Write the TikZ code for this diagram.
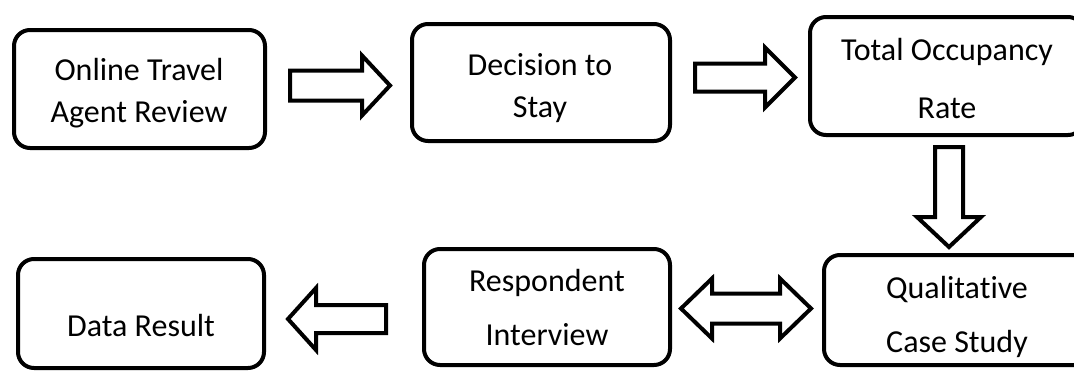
\documentclass[tikz,border=0pt]{standalone}
\usepackage{fontspec}
\setmainfont[Ligatures=NoCommon]{Carlito}
\begin{document}
\begin{tikzpicture}[x=1pt, y=-1pt,
        box/.style={draw, line width=4pt, rounded corners=16pt, inner sep=0pt},
        lbl/.style={font=\fontsize{32}{42}\selectfont, align=center, anchor=base},
        blockarrow/.style={draw, line width=4pt, line join=miter}]
        % Page: 1074 x 372, white
        \fill[white] (0,0) rectangle (1074,372);
        \useasboundingbox (0,0) rectangle (1074,372);

        % Boxes, top row
        \node[box, minimum width=251pt, minimum height=118pt] (review) at (139.5,89) {};
        \node[box, minimum width=258pt, minimum height=117pt] (decision) at (541,82.5) {};
        \node[box, minimum width=274pt, minimum height=118pt] (occupancy) at (947,76) {};

        % Boxes, bottom row
        \node[box, minimum width=266pt, minimum height=110pt] (casestudy) at (957,310) {};
        \node[box, minimum width=246pt, minimum height=116pt] (interview) at (547,307) {};
        \node[box, minimum width=246pt, minimum height=109pt] (result) at (141,313.5) {};

        % Labels (base = last line)
        \node[lbl] (review-t) at (139,122) {Online Travel\\Agent Review};
        \node[lbl] (decision-t) at (540,117) {Decision to\\Stay};
        \node[lbl] (occupancy-t) at (947,118) {Total Occupancy\\[16pt]Rate};
        \node[lbl] (casestudy-t) at (957,352) {Qualitative\\[12pt]Case Study};
        \node[lbl] (interview-t) at (547,345) {Respondent\\[12pt]Interview};
        \node[lbl] (result-t) at (141,336) {Data Result};

        % Arrow ends
        \coordinate (a1) at (290,85.5);
        \coordinate (a2) at (695,77.5);
        \coordinate (a3) at (949,147);
        \coordinate (a4) at (386,319);
        \coordinate (a5) at (681,308.5);

        % Block arrows
        \draw[blockarrow] (a1) ++(0,-15) -- ++(72,0) -- ++(0,-15) -- ++(28,30)
            -- ++(-28,30) -- ++(0,-15) -- ++(-72,0) -- cycle;
        \draw[blockarrow] (a2) ++(0,-14) -- ++(70,0) -- ++(0,-16) -- ++(30,30)
            -- ++(-30,30) -- ++(0,-16) -- ++(-70,0) -- cycle;
        \draw[blockarrow] (a3) ++(-14,0) -- ++(0,70) -- ++(-18,0) -- ++(32,30)
            -- ++(32,-30) -- ++(-18,0) -- ++(0,-70) -- cycle;
        \draw[blockarrow] (a4) ++(0,-14) -- ++(-70,0) -- ++(0,-17) -- ++(-28,31)
            -- ++(28,31) -- ++(0,-17) -- ++(70,0) -- cycle;
        \draw[blockarrow] (a5) -- ++(31,-30) -- ++(0,15) -- ++(68,0) -- ++(0,-15)
            -- ++(31,30) -- ++(-31,30) -- ++(0,-15) -- ++(-68,0) -- ++(0,15) -- cycle;
    \end{tikzpicture}
\end{document}
